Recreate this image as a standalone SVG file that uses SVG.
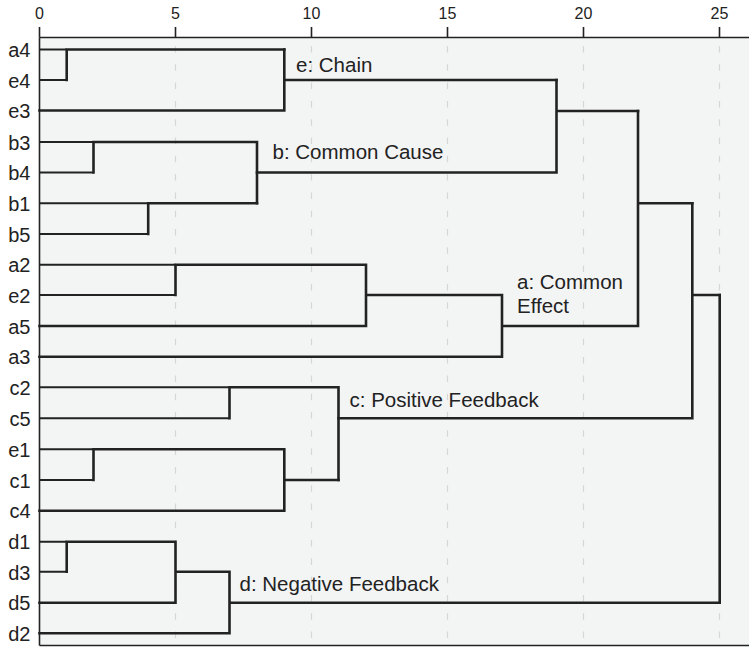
<svg xmlns="http://www.w3.org/2000/svg" width="749" height="648" viewBox="0 0 749 648">
<style>
.lbl{font-family:"Liberation Sans",Arial,Helvetica,sans-serif;font-size:20.5px;fill:#222}
.row{font-family:"Liberation Sans",Arial,Helvetica,sans-serif;font-size:20px;fill:#222;text-anchor:end}
.tick{font-family:"Liberation Sans",Arial,Helvetica,sans-serif;font-size:16px;fill:#222;text-anchor:middle}
.grid{stroke:#d6d6d6;stroke-width:1.2;stroke-dasharray:6.5 11.8;fill:none}
.ln{stroke:#222;stroke-width:2.6;fill:none;stroke-linecap:square;stroke-linejoin:miter}
.leaf{stroke:#222;stroke-width:2;fill:none}
.axis{stroke:#222;stroke-width:1.6;fill:none}
</style>
<rect x="0" y="0" width="749" height="648" fill="#ffffff"/>
<rect x="39.5" y="37.5" width="709.5" height="607.5" fill="#f3f4f4"/>
<g id="grid">
<line class="grid" x1="175.5" y1="46" x2="175.5" y2="644"/>
<line class="grid" x1="311.5" y1="46" x2="311.5" y2="644"/>
<line class="grid" x1="447.5" y1="46" x2="447.5" y2="644"/>
<line class="grid" x1="583.5" y1="46" x2="583.5" y2="644"/>
<line class="grid" x1="719.5" y1="46" x2="719.5" y2="644"/>
</g>
<g id="axis">
<line class="axis" x1="39.5" y1="37.5" x2="749" y2="37.5"/>
<line class="axis" x1="39.5" y1="37.5" x2="39.5" y2="645.5"/>
<line class="axis" x1="39.5" y1="645.5" x2="749" y2="645.5"/>
<line class="axis" x1="39.5" y1="27" x2="39.5" y2="37.5"/>
<line class="axis" x1="175.5" y1="27" x2="175.5" y2="37.5"/>
<line class="axis" x1="311.5" y1="27" x2="311.5" y2="37.5"/>
<line class="axis" x1="447.5" y1="27" x2="447.5" y2="37.5"/>
<line class="axis" x1="583.5" y1="27" x2="583.5" y2="37.5"/>
<line class="axis" x1="719.5" y1="27" x2="719.5" y2="37.5"/>
<text class="tick" x="39.5" y="18.5">0</text>
<text class="tick" x="175.5" y="18.5">5</text>
<text class="tick" x="311.5" y="18.5">10</text>
<text class="tick" x="447.5" y="18.5">15</text>
<text class="tick" x="583.5" y="18.5">20</text>
<text class="tick" x="719.5" y="18.5">25</text>
</g>
<g id="leaves">
<text class="row" x="30.5" y="57">a4</text>
<text class="row" x="30.5" y="87.5">e4</text>
<text class="row" x="30.5" y="118">e3</text>
<text class="row" x="30.5" y="149.5">b3</text>
<text class="row" x="30.5" y="180">b4</text>
<text class="row" x="30.5" y="211">b1</text>
<text class="row" x="30.5" y="241.5">b5</text>
<text class="row" x="30.5" y="272">a2</text>
<text class="row" x="30.5" y="302.5">e2</text>
<text class="row" x="30.5" y="333.5">a5</text>
<text class="row" x="30.5" y="364">a3</text>
<text class="row" x="30.5" y="395">c2</text>
<text class="row" x="30.5" y="425.5">c5</text>
<text class="row" x="30.5" y="456.5">e1</text>
<text class="row" x="30.5" y="487.5">c1</text>
<text class="row" x="30.5" y="518">c4</text>
<text class="row" x="30.5" y="549">d1</text>
<text class="row" x="30.5" y="579.5">d3</text>
<text class="row" x="30.5" y="610">d5</text>
<text class="row" x="30.5" y="641">d2</text>
</g>
<g id="connectors">
<!-- cluster e -->
<path class="leaf" d="M39.5 49.5H66.7M39.5 80H66.7"/>
<path class="ln" d="M66.7 80V49.5H284.3"/>
<path class="ln" d="M39.5 110.5H284.3V49.5M284.3 80H556.5"/>
<!-- cluster b -->
<path class="leaf" d="M39.5 142H93.5M39.5 172.5H93.5"/>
<path class="ln" d="M93.5 172.5V142H257V203.3"/>
<path class="leaf" d="M39.5 203.3H148.2M39.5 234H148.2"/>
<path class="ln" d="M148.2 234V203.3H257M257 172.5H556.5V80M556.5 111H638"/>
<!-- cluster a -->
<path class="leaf" d="M39.5 264.7H175.5M39.5 295H175.5"/>
<path class="ln" d="M175.5 295V264.7H366V326H39.5M366 295H502V356.7H39.5M502 326H638V111M638 203.3H692.3"/>
<!-- cluster c -->
<path class="leaf" d="M39.5 387.3H229.5M39.5 418.3H229.5"/>
<path class="ln" d="M229.5 418.3V387.3H338.5V480"/>
<path class="leaf" d="M39.5 449.3H93.5M39.5 480H93.5"/>
<path class="ln" d="M93.5 480V449.3H284.3V510.7H39.5M284.3 480H338.5M338.5 418.3H692.3V203.3M692.3 295H719.7"/>
<!-- cluster d -->
<path class="leaf" d="M39.5 541.7H66.7M39.5 571.7H66.7"/>
<path class="ln" d="M66.7 571.7V541.7H175.5V602.7H39.5M175.5 571.7H229.5V633.3H39.5M229.5 602.7H719.7V295"/>
</g>
<g id="labels">
<text class="lbl" x="296" y="72">e: Chain</text>
<text class="lbl" x="272.5" y="159.3">b: Common Cause</text>
<text class="lbl" x="517" y="288.5">a: Common</text>
<text class="lbl" x="517" y="312.5">Effect</text>
<text class="lbl" x="349.5" y="406.7">c: Positive Feedback</text>
<text class="lbl" x="239.5" y="590.7">d: Negative Feedback</text>
</g>
</svg>
